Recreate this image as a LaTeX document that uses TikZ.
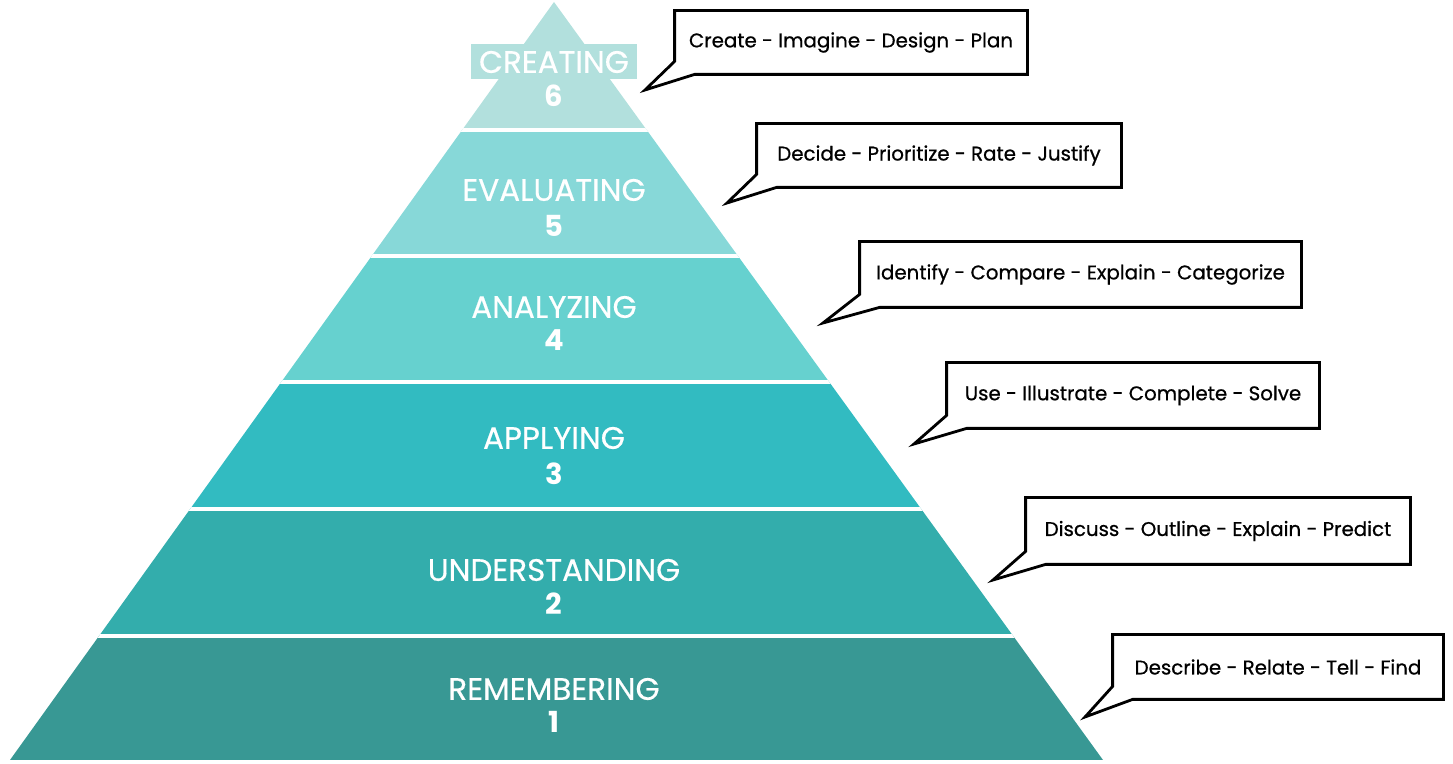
\documentclass[tikz,border=0pt]{standalone}
\usepackage{fontspec}
\setmainfont{Poppins}
\newfontfamily\lvlfont[FakeBold=0.5]{Poppins}
\newfontfamily\bubblefont[FakeBold=0.7]{Poppins}
\usepackage{xcolor}
\usepackage{tikz}
\usetikzlibrary{positioning,calc}

\definecolor{lvlone}{HTML}{389894}
\definecolor{lvltwo}{HTML}{33ADAC}
\definecolor{lvlthree}{HTML}{32BBC1}
\definecolor{lvlfour}{HTML}{66D1CF}
\definecolor{lvlfive}{HTML}{87D8D8}
\definecolor{lvlsix}{HTML}{B2E0DD}

\begin{document}
\begin{tikzpicture}[x=0.5pt, y=-0.5pt,
    lvlname/.style={text=white, inner sep=0pt, font=\lvlfont\fontsize{15.5}{17}\selectfont},
    lvlnum/.style={text=white, inner sep=0pt, font=\fontsize{14.5}{17}\selectfont\bfseries},
    bubbletext/.style={inner sep=0pt, font=\bubblefont\fontsize{9.9}{11}\selectfont},
    bubble/.style={draw=black, line width=1.4pt, line join=miter, fill=white}]
    \useasboundingbox (0,0) rectangle (1453,764);

    % Pyramid layers
    \begin{scope}
        \clip (554,2) -- (1103,760) -- (10,760) -- cycle;
        \fill[lvlsix] (0,0) rectangle (1453,130);
        \fill[lvlfive] (0,130) rectangle (1453,256);
        \fill[lvlfour] (0,256) rectangle (1453,382);
        \fill[lvlthree] (0,382) rectangle (1453,509);
        \fill[lvltwo] (0,509) rectangle (1453,636);
        \fill[lvlone] (0,636) rectangle (1453,764);
        \draw[white, line width=1.6pt] (0,130) -- (1453,130);
        \draw[white, line width=1.6pt] (0,256) -- (1453,256);
        \draw[white, line width=1.6pt] (0,382) -- (1453,382);
        \draw[white, line width=1.6pt] (0,509) -- (1453,509);
        \draw[white, line width=1.6pt] (0,636) -- (1453,636);
    \end{scope}

    % Level labels
    \node[lvlname, fill=lvlsix, inner xsep=4pt, minimum height=17.5pt] (n6) at (554,62) {CREATING};
    \node[lvlnum] (v6) at (554,96) {6};
    \node[lvlname] (n5) at (554,190) {EVALUATING};
    \node[lvlnum] (v5) at (554,226) {5};
    \node[lvlname] (n4) at (554,307) {ANALYZING};
    \node[lvlnum] (v4) at (554,340) {4};
    \node[lvlname] (n3) at (554,438) {APPLYING};
    \node[lvlnum] (v3) at (554,474) {3};
    \node[lvlname] (n2) at (554,570) {UNDERSTANDING};
    \node[lvlnum] (v2) at (554,604) {2};
    \node[lvlname] (n1) at (554,689) {REMEMBERING};
    \node[lvlnum] (v1) at (554,722) {1};

    % Callout tips
    \coordinate (t6) at (645,90);
    \coordinate (t5) at (727,203);
    \coordinate (t4) at (823,323);
    \coordinate (t3) at (914,444);
    \coordinate (t2) at (993,580);
    \coordinate (t1) at (1085,717);

    % Callouts
    \node[bubbletext, minimum width=176pt, minimum height=31.5pt] (c6) at (851,42.5) {};
    \draw[bubble] (c6.north west) -- (c6.north east) -- (c6.south east) -- ([xshift=10pt]c6.south west) -- (t6) -- ([yshift=6.5pt]c6.south west) -- cycle;
    \node[bubbletext] at (c6) {Create - Imagine - Design - Plan};

    \node[bubbletext, minimum width=182pt, minimum height=31.5pt] (c5) at (939,155.5) {};
    \draw[bubble] (c5.north west) -- (c5.north east) -- (c5.south east) -- ([xshift=10pt]c5.south west) -- (t5) -- ([yshift=6.5pt]c5.south west) -- cycle;
    \node[bubbletext] at (c5) {Decide - Prioritize - Rate - Justify};

    \node[bubbletext, minimum width=220.5pt, minimum height=32.5pt] (c4) at (1080.5,274.5) {};
    \draw[bubble] (c4.north west) -- (c4.north east) -- (c4.south east) -- ([xshift=10pt]c4.south west) -- (t4) -- ([yshift=6.5pt]c4.south west) -- cycle;
    \node[bubbletext] at (c4) {Identify - Compare - Explain - Categorize};

    \node[bubbletext, minimum width=186pt, minimum height=32.5pt] (c3) at (1133,395.5) {};
    \draw[bubble] (c3.north west) -- (c3.north east) -- (c3.south east) -- ([xshift=10pt]c3.south west) -- (t3) -- ([yshift=6.5pt]c3.south west) -- cycle;
    \node[bubbletext] at (c3) {Use - Illustrate - Complete - Solve};

    \node[bubbletext, minimum width=192pt, minimum height=33pt] (c2) at (1218,531) {};
    \draw[bubble] (c2.north west) -- (c2.north east) -- (c2.south east) -- ([xshift=10pt]c2.south west) -- (t2) -- ([yshift=6.5pt]c2.south west) -- cycle;
    \node[bubbletext] at (c2) {Discuss - Outline - Explain - Predict};

    \node[bubbletext, minimum width=165pt, minimum height=32pt] (c1) at (1278,667) {};
    \draw[bubble] (c1.north west) -- (c1.north east) -- (c1.south east) -- ([xshift=10pt]c1.south west) -- (t1) -- ([yshift=6.5pt]c1.south west) -- cycle;
    \node[bubbletext] at (c1) {Describe - Relate - Tell - Find};
\end{tikzpicture}
\end{document}
